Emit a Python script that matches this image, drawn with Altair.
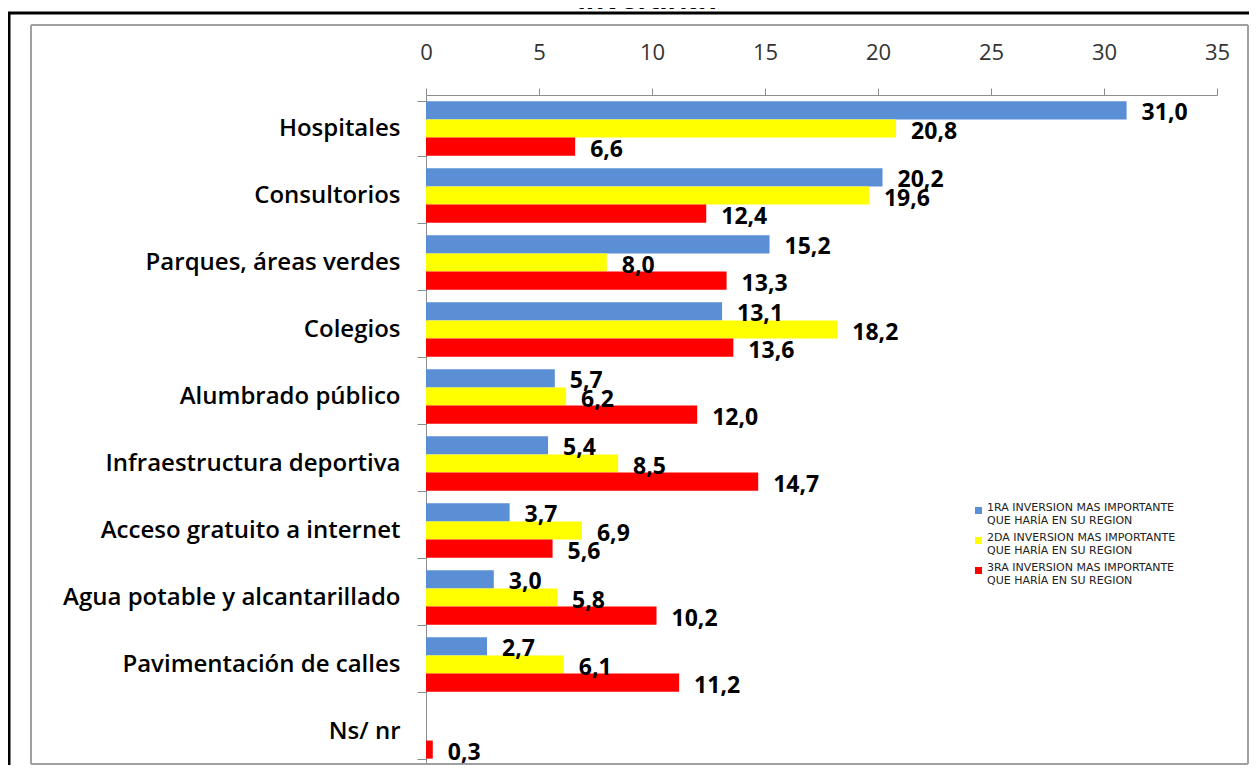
import altair as alt
import pandas as pd

categories = ["Hospitales", "Consultorios", "Parques, áreas verdes", "Colegios",
              "Alumbrado público", "Infraestructura deportiva",
              "Acceso gratuito a internet", "Agua potable y alcantarillado",
              "Pavimentación de calles", "Ns/ nr"]
series = ["1RA INVERSION MAS IMPORTANTE QUE HARÍA EN SU REGION",
          "2DA INVERSION MAS IMPORTANTE QUE HARÍA EN SU REGION",
          "3RA INVERSION MAS IMPORTANTE QUE HARÍA EN SU REGION"]
first = [31.0, 20.2, 15.2, 13.1, 5.7, 5.4, 3.7, 3.0, 2.7, None]
second = [20.8, 19.6, 8.0, 18.2, 6.2, 8.5, 6.9, 5.8, 6.1, None]
third = [6.6, 12.4, 13.3, 13.6, 12.0, 14.7, 5.6, 10.2, 11.2, 0.3]
colors = ["#5B8FD5", "#FFFF00", "#FF0000"]
x_ticks = [0, 5, 10, 15, 20, 25, 30, 35]
title_text = "invertiría?"

rows = []
for s, vals in zip(series, [first, second, third]):
    for c, v in zip(categories, vals):
        if v is not None:
            rows.append({"cat": c, "serie": s, "val": v,
                         "lbl": f"{v:.1f}".replace(".", ",")})
df = pd.DataFrame(rows)

FONT = "Open Sans"

y_enc = alt.Y("cat:N", sort=categories, title=None,
              scale=alt.Scale(domain=categories, paddingInner=0.19, paddingOuter=0.095),
              axis=alt.Axis(tickBand="extent", tickSize=9, tickColor="#8C8C8C",
                            domainColor="#8C8C8C", labelFont=FONT, labelFontSize=24,
                            labelFontWeight=600, labelColor="#000000", labelPadding=17,
                            labelLimit=600))
yoff = alt.YOffset("serie:N", sort=series, scale=alt.Scale(domain=series, paddingInner=0, paddingOuter=0))
x_enc = alt.X("val:Q", title=None,
              scale=alt.Scale(domain=[0, 35], nice=False),
              axis=alt.Axis(orient="top", values=x_ticks, tickSize=7, tickColor="#8C8C8C",
                            domainColor="#8C8C8C", grid=False, labelFont=FONT,
                            labelFontSize=22, labelColor="#333333", labelPadding=24,
                            labelFlush=False))

bars = alt.Chart(df).mark_bar().encode(
    y=y_enc, yOffset=yoff, x=x_enc,
    color=alt.Color("serie:N", sort=series,
                    scale=alt.Scale(domain=series, range=colors),
                    legend=alt.Legend(title=None, orient="none", legendX=547, legendY=410,
                                      symbolType="square", symbolSize=49,
                                      symbolStrokeWidth=0, labelFont="DejaVu Sans",
                                      labelFontSize=11, labelColor="#222222",
                                      labelBaseline="alphabetic",
                                      labelOffset=3, rowPadding=5, labelLimit=400,
                                      labelExpr="[substring(datum.label,0,28), substring(datum.label,29)]"))
)

labels = alt.Chart(df).mark_text(align="left", baseline="middle", dx=15, dy=3,
                                 font=FONT, fontSize=23, fontWeight="bold",
                                 color="#000000").encode(
    y=alt.Y("cat:N", sort=categories), yOffset=alt.YOffset("serie:N", sort=series),
    x="val:Q", text="lbl:N")

one = pd.DataFrame({"k": [0]})
outer_top = alt.Chart(one).mark_rule(color="#000000", strokeWidth=3).encode(
    x=alt.value(-418), x2=alt.value(823), y=alt.value(-82))
outer_left = alt.Chart(one).mark_rule(color="#000000", strokeWidth=3).encode(
    x=alt.value(-417), y=alt.value(-83), y2=alt.value(672))
g_top = alt.Chart(one).mark_rule(color="#A0A0A0", strokeWidth=2).encode(
    x=alt.value(-395), x2=alt.value(822), y=alt.value(-70))
g_left = alt.Chart(one).mark_rule(color="#A0A0A0", strokeWidth=2).encode(
    x=alt.value(-395), y=alt.value(-70), y2=alt.value(669))
g_right = alt.Chart(one).mark_rule(color="#A0A0A0", strokeWidth=2).encode(
    x=alt.value(822), y=alt.value(-70), y2=alt.value(669))
g_bottom = alt.Chart(one).mark_rule(color="#A0A0A0", strokeWidth=2).encode(
    x=alt.value(-395), x2=alt.value(822), y=alt.value(669))
title = alt.Chart(one).mark_text(font="Liberation Sans", fontSize=30, fontWeight="bold",
                                 baseline="alphabetic", align="center",
                                 color="#000000").encode(
    x=alt.value(224), y=alt.value(-86), text=alt.value(title_text))

chart = alt.layer(g_top, g_left, g_right, g_bottom, outer_top, outer_left,
                  bars, labels, title).properties(
    width=791, height=670,
    autosize=alt.AutoSizeParams(type="none"),
    padding={"left": 418, "top": 87, "right": 32, "bottom": 0},
    background="#FFFFFF",
).configure_view(strokeWidth=0)

chart.save("out.html", embed_options={"renderer": "svg", "actions": False})
